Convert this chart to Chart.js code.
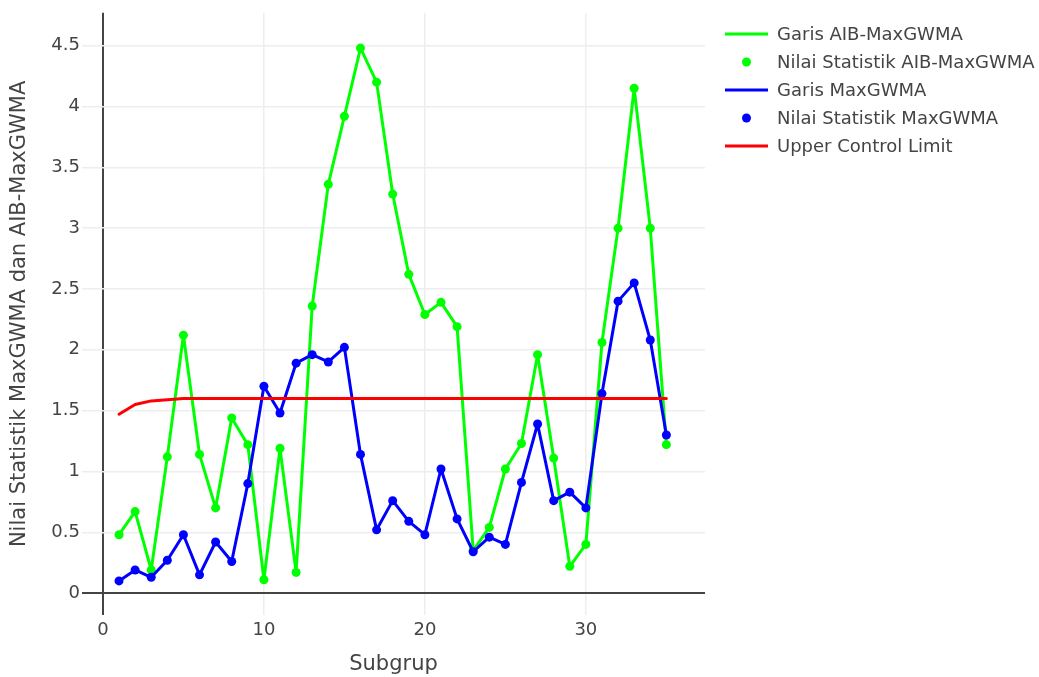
<!DOCTYPE html>
<html>
<head>
<meta charset="utf-8">
<script src="https://cdn.jsdelivr.net/npm/chart.js@4"></script>
<style>
  body { margin: 0; background: #fff; }
  #wrap { width: 1039px; height: 677px; }
</style>
</head>
<body>
<div id="wrap"><canvas id="chart" width="1039" height="677"></canvas></div>
<script>
// values
const subgrup = [1,2,3,4,5,6,7,8,9,10,11,12,13,14,15,16,17,18,19,20,21,22,23,24,25,26,27,28,29,30,31,32,33,34,35];
const aibMaxGwma = [0.48,0.67,0.19,1.12,2.12,1.14,0.70,1.44,1.22,0.11,1.19,0.17,2.36,3.36,3.92,4.48,4.20,3.28,2.62,2.29,2.39,2.19,0.35,0.54,1.02,1.23,1.96,1.11,0.22,0.40,2.06,3.00,4.15,3.00,1.22];
const maxGwma = [0.10,0.19,0.13,0.27,0.48,0.15,0.42,0.26,0.90,1.70,1.48,1.89,1.96,1.90,2.02,1.14,0.52,0.76,0.59,0.48,1.02,0.61,0.34,0.46,0.40,0.91,1.39,0.76,0.83,0.70,1.64,2.40,2.55,2.08,1.30];
const ucl = [1.47,1.55,1.58,1.59,1.60,1.60,1.60,1.60,1.60,1.60,1.60,1.60,1.60,1.60,1.60,1.60,1.60,1.60,1.60,1.60,1.60,1.60,1.60,1.60,1.60,1.60,1.60,1.60,1.60,1.60,1.60,1.60,1.60,1.60,1.60];
const xTicks = [0, 10, 20, 30];
const yTicks = [0, 0.5, 1, 1.5, 2, 2.5, 3, 3.5, 4, 4.5];

const GREEN = '#00ff00', BLUE = '#0000ff', RED = '#ff0000';
const FONT = 'DejaVu Sans';
const TEXT = '#444';

const pts = arr => arr.map((v, i) => ({ x: subgrup[i], y: v }));

// plotly-like legend at the right, drawn onto the canvas
const sideLegend = {
  id: 'sideLegend',
  afterDraw(chart) {
    const ctx = chart.ctx;
    const items = chart.data.datasets.slice().sort((a, b) => a.legendIndex - b.legendIndex);
    ctx.save();
    ctx.font = `18px "${FONT}"`;
    ctx.textBaseline = 'middle';
    items.forEach((ds, i) => {
      const y = 34 + i * 28;
      if (ds.showLine === false) {
        ctx.beginPath();
        ctx.fillStyle = ds.backgroundColor;
        ctx.arc(746.5, y, 4.5, 0, Math.PI * 2);
        ctx.fill();
      } else {
        ctx.beginPath();
        ctx.strokeStyle = ds.borderColor;
        ctx.lineWidth = 3;
        ctx.moveTo(725, y);
        ctx.lineTo(768, y);
        ctx.stroke();
      }
      ctx.fillStyle = TEXT;
      ctx.fillText(ds.label, 777, y + 1);
    });
    ctx.restore();
  }
};

const gridColor = c => c.tick && c.tick.value === 0 ? '#444' : '#eee';
const gridWidth = c => c.tick && c.tick.value === 0 ? 2 : 1.5;

new Chart(document.getElementById('chart'), {
  type: 'line',
  data: {
    datasets: [
      { label: 'Garis AIB-MaxGWMA', legendIndex: 0, order: 4, data: pts(aibMaxGwma),
        borderColor: GREEN, backgroundColor: GREEN, borderWidth: 3, pointRadius: 0 },
      { label: 'Nilai Statistik AIB-MaxGWMA', legendIndex: 1, order: 3, data: pts(aibMaxGwma), showLine: false,
        borderColor: GREEN, backgroundColor: GREEN, pointRadius: 4.5, pointBorderWidth: 0 },
      { label: 'Garis MaxGWMA', legendIndex: 2, order: 2, data: pts(maxGwma),
        borderColor: BLUE, backgroundColor: BLUE, borderWidth: 3, pointRadius: 0 },
      { label: 'Nilai Statistik MaxGWMA', legendIndex: 3, order: 1, data: pts(maxGwma), showLine: false,
        borderColor: BLUE, backgroundColor: BLUE, pointRadius: 4.5, pointBorderWidth: 0 },
      { label: 'Upper Control Limit', legendIndex: 4, order: 0, data: pts(ucl),
        borderColor: RED, backgroundColor: RED, borderWidth: 3, pointRadius: 0 }
    ]
  },
  options: {
    responsive: false,
    animation: false,
    elements: { line: { borderJoinStyle: 'round', borderCapStyle: 'round', tension: 0 } },
    layout: { padding: { top: 12, right: 334, bottom: 0, left: 0 } },
    plugins: { legend: { display: false }, tooltip: { enabled: false } },
    scales: {
      x: {
        type: 'linear', min: -1.3, max: 37.4,
        afterBuildTicks: s => { s.ticks = xTicks.map(v => ({ value: v })); },
        afterFit: s => { s.height = 62; },
        border: { display: false },
        grid: { drawTicks: false, color: gridColor, lineWidth: gridWidth },
        ticks: { padding: 5, color: TEXT, font: { family: FONT, size: 18 }, callback: v => String(v) },
        title: { display: true, text: 'Subgrup', color: TEXT, font: { family: FONT, size: 21 }, padding: { top: 0, bottom: 0 } }
      },
      y: {
        min: -0.18, max: 4.77,
        afterBuildTicks: s => { s.ticks = yTicks.map(v => ({ value: v })); },
        afterFit: s => { s.width = 82; },
        border: { display: false },
        grid: { drawTicks: false, color: gridColor, lineWidth: gridWidth },
        ticks: { padding: 2, color: TEXT, font: { family: FONT, size: 18 }, callback: v => String(v) },
        title: { display: true, text: 'Nilai Statistik MaxGWMA dan AIB-MaxGWMA', color: TEXT, font: { family: FONT, size: 21 }, padding: { top: 7, bottom: 0 } }
      }
    }
  },
  plugins: [sideLegend]
});
</script>
</body>
</html>
